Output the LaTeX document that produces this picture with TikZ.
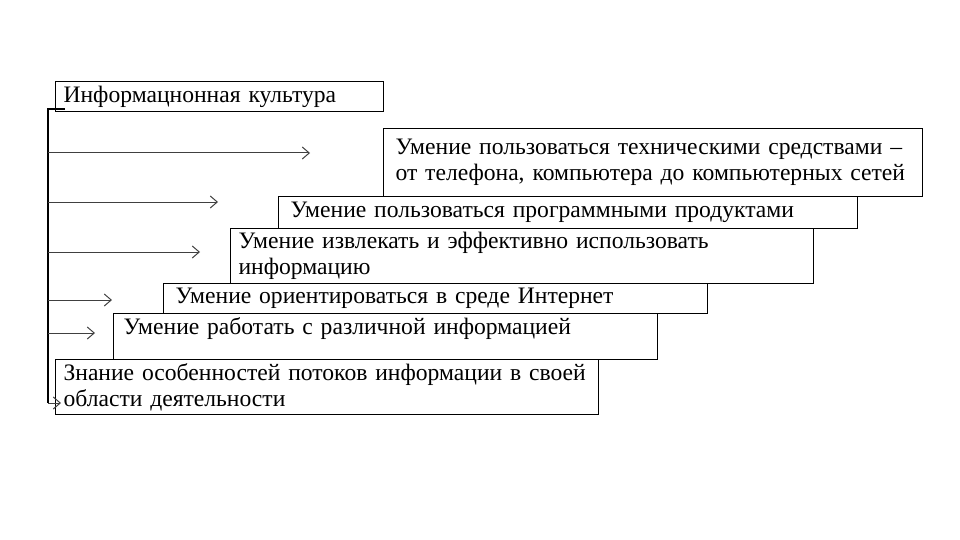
\documentclass[tikz,border=0pt]{standalone}
\usepackage{fontspec}
\setmainfont{Liberation Serif}
\usetikzlibrary{arrows.meta}
\begin{document}
\begin{tikzpicture}[x=1pt,y=-1pt,line cap=butt,line join=miter,
		box/.style={draw,line width=1.1pt,anchor=north west,inner xsep=10pt,inner ysep=0pt,
			align=left,font=\fontsize{23.6}{26}\selectfont},
		arr/.style={line width=1pt,draw=black!75,-{Straight Barb[length=7pt,width=12pt,line width=1pt]}}]
			\useasboundingbox (0,0) rectangle (960,540);
			% boxes, stacked from the top right to the bottom left
			\node[box,minimum width=328pt,minimum height=30pt,text width=312pt,inner xsep=8pt] (kult) at (55,81) {Информацнонная культура};
			\node[box,minimum width=539pt,minimum height=68pt,text width=515pt,inner xsep=12pt] (tech) at (383,128) {Умение пользоваться техническими средствами --\\от телефона, компьютера до компьютерных сетей};
			\node[box,minimum width=579pt,minimum height=32pt,text width=555pt,inner xsep=12pt] (prog) at (278,196) {Умение пользоваться программными продуктами};
			\node[box,minimum width=583pt,minimum height=55pt,text width=567pt,inner xsep=8pt] (izvl) at (230,228) {Умение извлекать и эффективно использовать\\информацию};
			\node[box,minimum width=544pt,minimum height=30pt,text width=520pt,inner xsep=12pt] (inet) at (163,283) {Умение ориентироваться в среде Интернет};
			\node[box,minimum width=544pt,minimum height=46pt,text width=524pt,text depth=20pt] (rabt) at (113,313) {Умение работать с различной информацией};
			\node[box,minimum width=543pt,minimum height=55pt,text width=527pt,inner xsep=8pt] (znan) at (55,359) {Знание особенностей потоков информации в своей\\области деятельности};
			% spine on the left
			\coordinate (top) at (48,109);
			\coordinate (bot) at (48,403);
			\draw[line width=1.1pt] (65,109) -- (top) -- (bot);
			\foreach \y/\xe in {153/310,202/218,252/200,300/112,333/95,403/61}{
				\draw[arr] (top |- 0,\y) -- (\xe,\y);
			}
		\end{tikzpicture}
\end{document}
